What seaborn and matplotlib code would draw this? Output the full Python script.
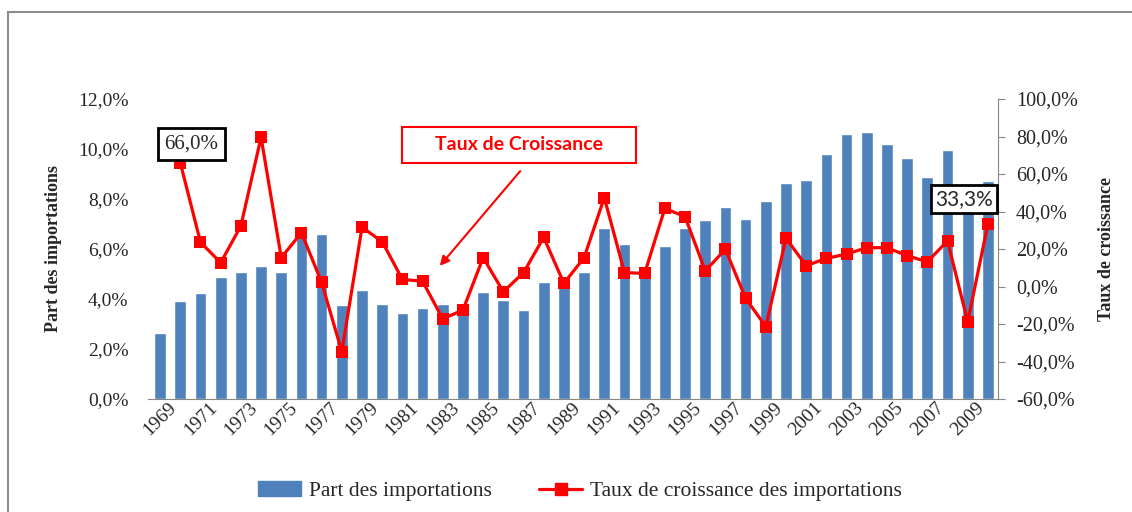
import matplotlib
matplotlib.use('Agg')
import matplotlib.pyplot as plt
import matplotlib.patches as mpatches
import matplotlib.transforms as mtransforms
from matplotlib.lines import Line2D
from matplotlib.ticker import FuncFormatter, MultipleLocator
import seaborn as sns

# Data
years = list(range(1969, 2011))
part = [2.65, 3.93, 4.25, 4.88, 5.08, 5.33, 5.08, 6.92, 6.60, 3.75,
        4.35, 3.81, 3.43, 3.64, 3.81, 3.45, 4.28, 3.96, 3.57, 4.67,
        4.92, 5.08, 6.85, 6.21, 5.25, 6.11, 6.85, 7.16, 7.67, 7.20,
        7.91, 8.64, 8.76, 9.81, 10.59, 10.67, 10.20, 9.64, 8.87, 9.95,
        8.00, 8.72]
growth_years = list(range(1970, 2011))
growth = [66.0, 23.6, 12.7, 32.3, 79.6, 15.4, 28.7, 2.2, -34.8, 31.6,
          23.9, 3.8, 2.8, -17.3, -12.5, 15.4, -2.8, 7.4, 26.2, 1.7,
          15.4, 47.4, 7.4, 7.0, 41.7, 37.2, 8.4, 19.8, -6.3, -21.4,
          25.7, 11.1, 15.0, 17.3, 20.7, 20.7, 16.4, 13.2, 24.3, -18.8,
          33.3]

BLUE = '#4F81BD'
RED = '#FF0000'
GREY = '#868686'

sns.set_style('white')
plt.rcParams['font.family'] = ['Liberation Serif', 'DejaVu Serif']


def pct(v, _):
    return f"{v:.1f}%".replace('.', ',')


fig = plt.figure(figsize=(11.32, 5.12), dpi=100)
ax = fig.add_axes([148 / 1132, 1 - 399 / 512, 850 / 1132, 300 / 512])

# bars: share of imports
sns.barplot(x=[str(y) for y in years], y=part, color=BLUE, saturation=1,
            width=0.58, ax=ax)
ax.set_xlim(-0.6, 41.5)
ax.set_ylim(0, 12)
ax.yaxis.set_major_locator(MultipleLocator(2))
ax.yaxis.set_major_formatter(FuncFormatter(pct))
ax.set_xticks(range(0, len(years), 2))
ax.set_xticklabels([str(y) for y in years[::2]], rotation=45,
                   ha='center', fontsize=14)
shift = mtransforms.ScaledTranslation(-8 / 100, -4 / 100, fig.dpi_scale_trans)
for lab in ax.get_xticklabels():
    lab.set_transform(lab.get_transform() + shift)
ax.tick_params(axis='x', length=0, pad=0)
ax.tick_params(axis='y', length=0, pad=14, labelsize=14)
for s in ['left', 'top', 'right']:
    ax.spines[s].set_visible(False)
ax.spines['bottom'].set_color(GREY)
ax.set_xlabel('')
ax.set_ylabel('Part des importations', fontsize=13, fontweight='bold')
ax.yaxis.set_label_coords(-0.101, 0.5)

# line: growth rate on the secondary axis
ax2 = ax.twinx()
pos = [years.index(y) for y in growth_years]
sns.lineplot(x=pos, y=growth, ax=ax2, color=RED, lw=2.3, marker='s',
             markersize=9, markeredgecolor=RED, markeredgewidth=0)
ax2.set_ylim(-60, 100)
ax2.yaxis.set_major_locator(MultipleLocator(20))
ax2.yaxis.set_major_formatter(FuncFormatter(pct))
ax2.tick_params(axis='y', length=5, direction='out', color=GREY, pad=8,
                labelsize=14.5)
for s in ['left', 'top', 'bottom']:
    ax2.spines[s].set_visible(False)
ax2.spines['right'].set_color(GREY)
ax2.set_ylabel('Taux de croissance', fontsize=13, fontweight='bold',
               rotation=90)
ax2.yaxis.set_label_coords(1.1176, 0.5)

# value labels
ax2.annotate('66,0%', xy=(pos[0], growth[0]), xytext=(8, 13.5),
             textcoords='offset points', ha='center', va='center',
             fontsize=15,
             bbox=dict(boxstyle='square,pad=0.3', fc='white', ec='black', lw=2))
ax2.annotate('33,3%', xy=(pos[-1], growth[-1]), xytext=(-17.5, 18),
             textcoords='offset points', ha='center', va='center',
             fontsize=15, family=['Lato', 'DejaVu Sans'],
             bbox=dict(boxstyle='square,pad=0.2', fc='white', ec='black', lw=2))

# callout box with arrow
fig.add_artist(mpatches.Rectangle((402 / 1132, 1 - 163 / 512), 234 / 1132, 36 / 512,
                                  transform=fig.transFigure, fc='white',
                                  ec=RED, lw=1.5))
fig.text(519 / 1132, 1 - 145 / 512, 'Taux de Croissance', color=RED,
         fontsize=14, fontweight='bold', family=['Lato', 'DejaVu Sans'],
         ha='center', va='center')
ax2.annotate('', xy=(438, 512 - 268), xycoords='figure pixels',
             xytext=(522, 512 - 169), textcoords='figure pixels',
             arrowprops=dict(arrowstyle='-|>', color=RED, lw=1.5,
                             mutation_scale=14))

# legend
handles = [mpatches.Patch(color=BLUE),
           Line2D([], [], color=RED, lw=2.3, marker='s', markersize=8)]
fig.legend(handles, ['Part des importations',
                     'Taux de croissance des importations'],
           loc='center', bbox_to_anchor=(580 / 1132, 1 - 491 / 512), ncol=2,
           frameon=False, fontsize=15.5, handlelength=2.0, columnspacing=2.2,
           handletextpad=0.35)

# outer frame
fig.add_artist(mpatches.Rectangle((8 / 1132, -0.1), 1.1, 1.1 - 12 / 512,
                                  transform=fig.transFigure, fill=False,
                                  ec='#8c8c8c', lw=1.5))

fig.savefig('out.png', dpi=100)
